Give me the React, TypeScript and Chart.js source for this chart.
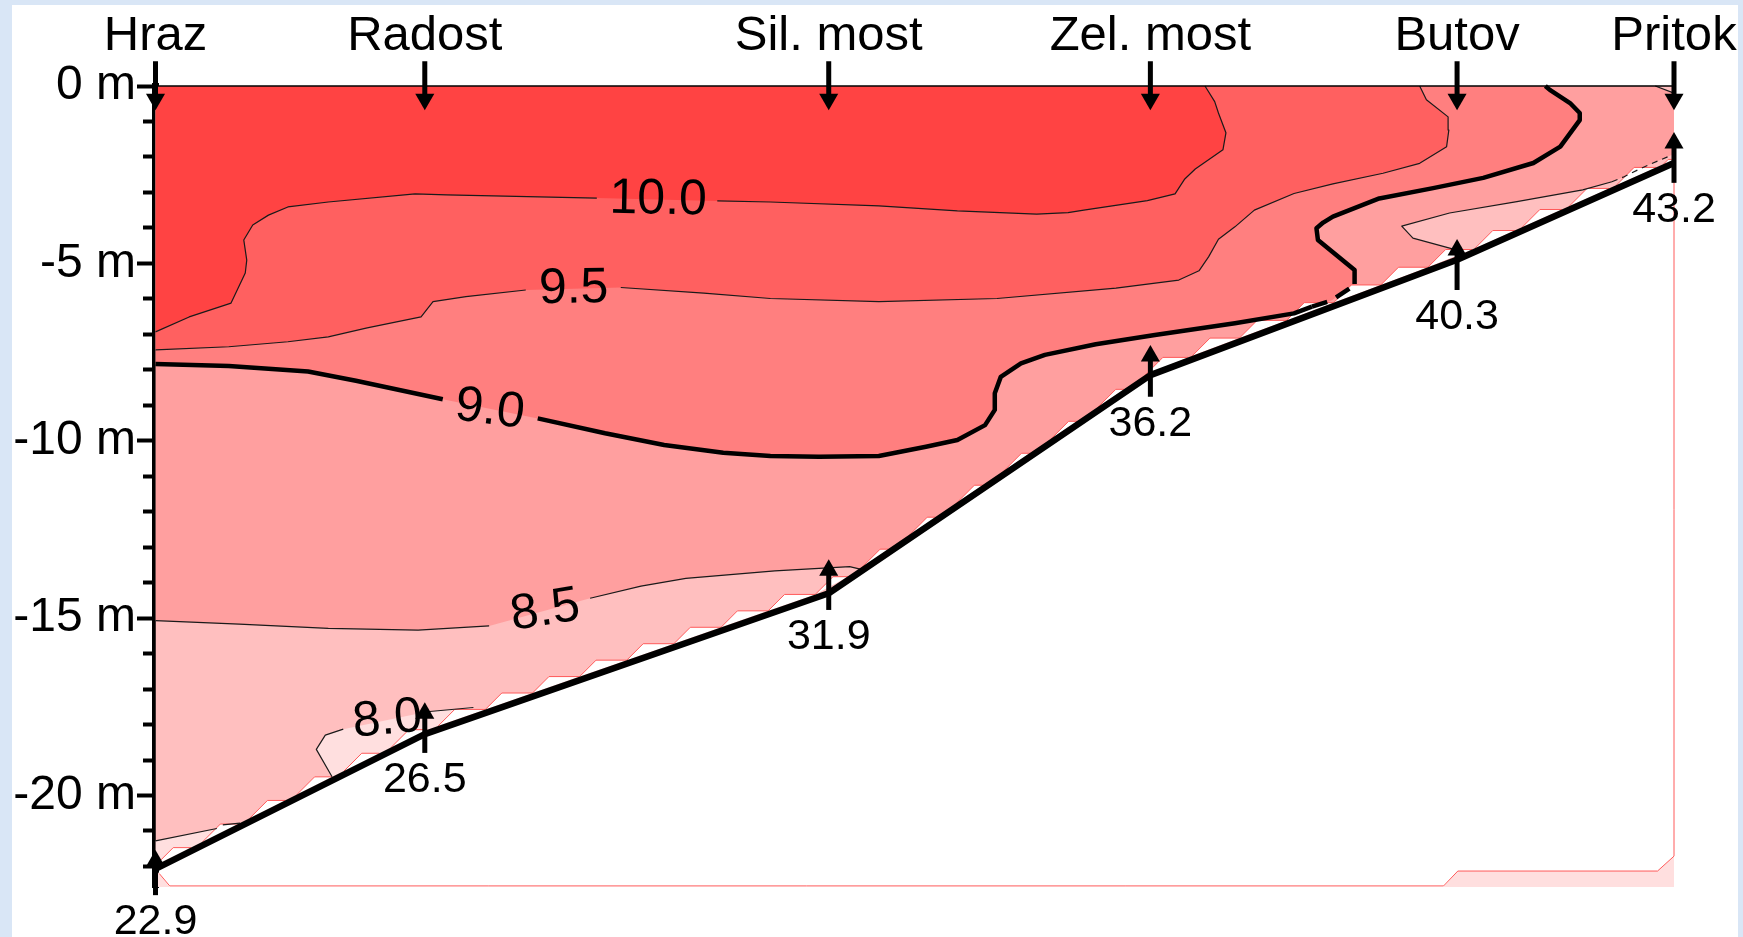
import React, { useEffect, useRef } from 'react';
import { Chart, registerables } from 'chart.js';

Chart.register(...registerables);

const FONT = '"Liberation Sans", Arial, Helvetica, sans-serif';

type Pt = [number, number];

// Stations along the reservoir: river km and bottom depth (m)
const STATION_NAMES = ['Hraz', 'Radost', 'Sil. most', 'Zel. most', 'Butov', 'Pritok'];
const STATION_KM = [22.9, 26.5, 31.9, 36.2, 40.3, 43.2];
const BED_DEPTH = [-22.07, -18.27, -14.3, -8.15, -4.9, -2.17];

// Sampling arrows: one from above the surface, one up from under the bottom
const SURFACE_ARROW_FROM = 0.7;
const SURFACE_ARROW_TO = -0.68;
const BOTTOM_ARROW_FROM = [-22.81, -18.8, -14.77, -8.76, -5.75, -2.73];
const BOTTOM_ARROW_TO = [-21.54, -17.37, -13.34, -7.3, -4.31, -1.3];
const ARROW_HEAD = 0.31; // head centre sits this far behind the tip (m)

const DEPTH_MIN = -22.58;
const KM_MIN = 22.9;
const KM_MAX = 43.2;

// Isolines (km, depth). Pieces are split where the value label sits.
const ISO_100_A: Pt[] = [[22.9, -6.93], [23.35, -6.51], [23.91, -6.12], [24.1, -5.27], [24.12, -4.91], [24.08, -4.34], [24.2, -3.92], [24.41, -3.64], [24.67, -3.41], [25.21, -3.27], [26.37, -3.04], [26.79, -3.07], [28.8, -3.16]];
const ISO_100_B: Pt[] = [[30.41, -3.24], [31.12, -3.27], [32.57, -3.38], [33.62, -3.52], [34.68, -3.61], [35.1, -3.57], [35.31, -3.5], [36.16, -3.23], [36.53, -3.04], [36.66, -2.62], [36.8, -2.34], [37.17, -1.8], [37.21, -1.32], [37.11, -0.76], [37.06, -0.44], [36.93, 0]];

const ISO_95_A: Pt[] = [[22.9, -7.44], [23.88, -7.35], [24.67, -7.21], [25.21, -7.07], [25.73, -6.82], [26.45, -6.51], [26.61, -6.08], [27.05, -5.94], [27.85, -5.75]];
const ISO_95_B: Pt[] = [[29.12, -5.68], [30.23, -5.84], [31.12, -5.99], [32.57, -6.08], [34.15, -5.99], [35.74, -5.7], [36.58, -5.47], [36.85, -5.21], [36.98, -4.81], [37.11, -4.32], [37.33, -3.97], [37.59, -3.5], [38.12, -3.03], [38.64, -2.76], [39.31, -2.46], [39.8, -2.18], [40.16, -1.71], [40.19, -1.24], [40.18, -0.87], [39.89, -0.39], [39.8, 0]];

const ISO_90_A: Pt[] = [[22.9, -7.84], [23.88, -7.89], [24.94, -8.05], [25.58, -8.31], [26.74, -8.83]];
const ISO_90_B: Pt[] = [[28.01, -9.37], [28.91, -9.79], [29.7, -10.12], [30.49, -10.34], [31.12, -10.43], [31.77, -10.45], [32.57, -10.43], [33.2, -10.17], [33.62, -9.98], [33.99, -9.56], [34.12, -9.13], [34.12, -8.66], [34.2, -8.2], [34.47, -7.82], [34.79, -7.58], [35.47, -7.28], [36.26, -7.02], [37.33, -6.69], [38.12, -6.41], [38.36, -6.22]];
const ISO_90_C: Pt[] = [[38.36, -6.22], [38.62, -6.05], [38.88, -5.68], [38.93, -5.58]];
const ISO_90_D: Pt[] = [[38.93, -5.58], [38.93, -5.19], [38.44, -4.34], [38.42, -4.01], [38.51, -3.85], [38.64, -3.68], [39.26, -3.17], [39.98, -2.88], [40.65, -2.59], [41.32, -2.17], [41.68, -1.71], [41.94, -0.96], [41.94, -0.76], [41.81, -0.48], [41.54, -0.11], [41.48, 0]];

const ISO_85_A: Pt[] = [[22.9, -15.07], [24.02, -15.17], [25.21, -15.29], [26.41, -15.34], [27.36, -15.22]];
const ISO_85_B: Pt[] = [[28.71, -14.44], [29.39, -14.1], [29.99, -13.88], [31.18, -13.67], [32.18, -13.55], [32.32, -13.62]];
const ISO_85_C: Pt[] = [[40.34, -4.85], [40.25, -4.6], [39.71, -4.29], [39.56, -3.95], [40.2, -3.58], [41.1, -3.26], [41.98, -2.93], [42.37, -2.7]];
const ISO_85_D: Pt[] = [[42.37, -2.7], [42.52, -2.57], [42.77, -2.31], [42.92, -2.17], [43.2, -1.92]];
const ISO_85_E: Pt[] = [[42.95, 0], [43.2, -0.2]];

const ISO_80_RA: Pt[] = [[25.26, -19.47], [25.05, -18.7], [25.17, -18.3], [25.41, -18.13]];
const ISO_80_RB: Pt[] = [[26.53, -17.64], [27.15, -17.52]];
const ISO_80_HA: Pt[] = [[22.9, -21.28], [23.72, -20.93]];
const ISO_80_HB: Pt[] = [[23.8, -20.83], [24.03, -20.78]];

// Edge of the gridded section at the bottom
const FRAME_EDGE: Pt[] = [[22.95, -22.2], [23.09, -22.55], [40.12, -22.55], [40.31, -22.13], [42.98, -22.13], [43.2, -21.71], [43.2, -2.17]];
const FRAME_CORNER_R: Pt[] = [[40.12, -22.58], [40.31, -22.13], [42.98, -22.13], [43.2, -21.71], [43.2, -22.58]];
const FRAME_CORNER_L: Pt[] = [[22.9, -22.07], [23.09, -22.58], [22.9, -22.58]];

// Grid cells of the gridded section cut the bottom into small steps
const GRID_STEP_KM = 0.63;
const GRID_MAX_RISE = 0.5; // m
const GRID_DIAG_KM_PER_M = 0.474; // a 45° cut at this aspect
const GRID_LIFT = 0.1; // steps start at the upper edge of the bottom line (m)

// Isoline value labels
const ISO_LABEL_TEXT = ['10.0', '9.5', '9.0', '8.5', '8.0'];
const ISO_LABEL_KM = [29.62, 28.49, 27.37, 28.11, 26.0];
const ISO_LABEL_DEPTH = [-3.21, -5.72, -9.13, -14.8, -17.87];
const ISO_LABEL_ANGLE = [1, -1, 7, -9, -5];

// Fill colours, from warmest band down
const BAND_COLORS = {
  above100: '#ff4343',
  above95: '#ff6060',
  above90: '#ff7f7f',
  above85: '#ff9f9f',
  above80: '#ffbfbf',
  below80: '#ffdfdf',
};

const BED: Pt[] = STATION_KM.map((k, i) => [k, BED_DEPTH[i]] as Pt);
const rev = (pts: Pt[]): Pt[] => [...pts].reverse();
const toXY = (pts: Pt[]) => pts.map(([x, y]) => ({ x, y }));
// bed vertices strictly between two km, walking from `from` to `to`
const bedBetween = (from: number, to: number): Pt[] => {
  const lo = Math.min(from, to);
  const hi = Math.max(from, to);
  const inner = BED.filter(([k]) => k > lo && k < hi);
  return from > to ? rev(inner) : inner;
};
const bedAt = (km: number): number => {
  for (let i = 1; i < BED.length; i++) {
    const [k0, d0] = BED[i - 1];
    const [k1, d1] = BED[i];
    if (km <= k1) return d0 + ((km - k0) / (k1 - k0)) * (d1 - d0);
  }
  return BED[BED.length - 1][1];
};
const kmAtBed = (depth: number): number => {
  for (let i = 1; i < BED.length; i++) {
    const [k0, d0] = BED[i - 1];
    const [k1, d1] = BED[i];
    if (depth <= d1) return k0 + ((depth - d0) / (d1 - d0)) * (k1 - k0);
  }
  return BED[BED.length - 1][0];
};

// white wedges left between the last grid cells and the bottom line
function gridSteps() {
  const pts: { x: number; y: number | null }[] = [];
  for (let k = KM_MIN; k < KM_MAX - 0.05; k += GRID_STEP_KM) {
    const next = Math.min(k + GRID_STEP_KM, KM_MAX);
    const d0 = bedAt(k);
    const rise = Math.min(bedAt(next) - d0, GRID_MAX_RISE);
    const top = d0 + rise;
    const kr = kmAtBed(top);
    pts.push(
      { x: k, y: d0 + GRID_LIFT },
      { x: k + rise * GRID_DIAG_KM_PER_M, y: top + GRID_LIFT },
      { x: kr, y: top + GRID_LIFT },
      { x: kr, y: null },
    );
  }
  return pts;
}

const ZONE_WATER: Pt[] = [[KM_MIN, 0], [KM_MAX, 0], ...rev(BED)];
const ZONE_85: Pt[] = [[KM_MIN, 0], ...ISO_85_E, ...rev(ISO_85_D), ...rev(ISO_85_C), ...bedBetween(40.34, 32.32), ...rev(ISO_85_B), ...rev(ISO_85_A)];
const ZONE_90: Pt[] = [[KM_MIN, 0], ...rev(ISO_90_D), ...rev(ISO_90_C), ...rev(ISO_90_B), ...rev(ISO_90_A)];
const ZONE_95: Pt[] = [[KM_MIN, 0], ...rev(ISO_95_B), ...rev(ISO_95_A)];
const ZONE_100: Pt[] = [[KM_MIN, 0], ...rev(ISO_100_B), ...rev(ISO_100_A)];
const POCKET_RADOST: Pt[] = [...ISO_80_RA, ...ISO_80_RB, ...bedBetween(27.15, 25.26)];
const POCKET_HRAZ: Pt[] = [...ISO_80_HA, ...ISO_80_HB, BED[0]];

function area(pts: Pt[], color: string, order: number) {
  return {
    data: toXY(pts),
    fill: 'shape',
    backgroundColor: color,
    borderColor: 'transparent',
    borderWidth: 0,
    pointRadius: 0,
    order,
  };
}

function line(pts: Pt[], width: number, color = '#000', dash: number[] = [], order = 30) {
  return {
    data: toXY(pts),
    fill: false,
    borderColor: color,
    borderWidth: width,
    borderDash: dash,
    borderJoinStyle: 'round',
    borderCapStyle: 'butt',
    pointRadius: 0,
    clip: false,
    order,
  };
}

function arrow(km: number, from: number, to: number) {
  const down = to < from;
  const head = down ? to + ARROW_HEAD : to - ARROW_HEAD;
  return {
    data: [{ x: km, y: from }, { x: km, y: head }],
    fill: false,
    borderColor: '#000',
    borderWidth: 5,
    borderCapStyle: 'butt',
    pointRadius: [0, 11],
    pointStyle: 'triangle',
    pointRotation: [0, down ? 180 : 0],
    pointBackgroundColor: '#000',
    pointBorderWidth: 0,
    clip: false,
    order: 5,
  };
}

const sectionLabels = {
  id: 'sectionLabels',
  afterDatasetsDraw(chart: any) {
    const { ctx, scales } = chart;
    const xs = scales.x;
    const ys = scales.y;
    ctx.save();
    ctx.fillStyle = '#000';
    ctx.textAlign = 'center';

    ctx.font = `43px ${FONT}`;
    ctx.textBaseline = 'alphabetic';
    STATION_KM.forEach((km, i) => {
      const px = xs.getPixelForValue(km);
      const py = ys.getPixelForValue(BOTTOM_ARROW_FROM[i]) + 39;
      ctx.fillText(km.toFixed(1), px, py);
    });

    ctx.font = `50px ${FONT}`;
    ctx.textBaseline = 'middle';
    ISO_LABEL_TEXT.forEach((text, i) => {
      ctx.save();
      ctx.translate(xs.getPixelForValue(ISO_LABEL_KM[i]), ys.getPixelForValue(ISO_LABEL_DEPTH[i]));
      ctx.rotate((ISO_LABEL_ANGLE[i] * Math.PI) / 180);
      ctx.fillText(text, 0, 0);
      ctx.restore();
    });
    ctx.restore();
  },
};

function buildConfig(): any {
  const datasets: any[] = [
    area(ZONE_WATER, BAND_COLORS.above80, 100),
    area(POCKET_RADOST, BAND_COLORS.below80, 90),
    area(POCKET_HRAZ, BAND_COLORS.below80, 90),
    area(ZONE_85, BAND_COLORS.above85, 80),
    area(ZONE_90, BAND_COLORS.above90, 70),
    area(ZONE_95, BAND_COLORS.above95, 60),
    area(ZONE_100, BAND_COLORS.above100, 50),
    area(FRAME_CORNER_R, BAND_COLORS.below80, 45),
    area(FRAME_CORNER_L, BAND_COLORS.below80, 45),
    {
      data: gridSteps(),
      fill: 'shape',
      spanGaps: false,
      backgroundColor: '#ffffff',
      borderColor: '#ff5a5a',
      borderWidth: 1,
      pointRadius: 0,
      order: 40,
    },

    line(ISO_100_A, 1.2, '#1a1a1a'),
    line(ISO_100_B, 1.2, '#1a1a1a'),
    line(ISO_95_A, 1.2, '#1a1a1a'),
    line(ISO_95_B, 1.2, '#1a1a1a'),
    line(ISO_85_A, 1.2, '#1a1a1a'),
    line(ISO_85_B, 1.2, '#1a1a1a'),
    line(ISO_85_C, 1.2, '#1a1a1a'),
    line(ISO_85_D, 1.2, '#1a1a1a', [6, 5]),
    line(ISO_85_E, 1.2, '#1a1a1a'),
    line(ISO_80_RA, 1.2, '#1a1a1a'),
    line(ISO_80_RB, 1.2, '#1a1a1a'),
    line(ISO_80_HA, 1.2, '#1a1a1a'),
    line(ISO_80_HB, 1.2, '#1a1a1a'),
    line(ISO_90_A, 4.5),
    line(ISO_90_B, 4.5),
    line(ISO_90_C, 4.5, '#000', [16, 10]),
    line(ISO_90_D, 4.5),

    line(FRAME_EDGE, 1, '#ff5a5a', [], 25),
    line([[KM_MIN, 0], [KM_MAX, 0]], 1.5, '#000', [], 20),
    line(BED, 6.5, '#000', [], 10),
  ];

  STATION_KM.forEach((km, i) => {
    datasets.push(arrow(km, SURFACE_ARROW_FROM, SURFACE_ARROW_TO));
    datasets.push(arrow(km, BOTTOM_ARROW_FROM[i], BOTTOM_ARROW_TO[i]));
  });

  return {
    type: 'line',
    data: { datasets },
    options: {
      responsive: false,
      animation: false,
      events: [],
      devicePixelRatio: 1,
      layout: { padding: { left: 0, top: 0, right: 69, bottom: 50 } },
      plugins: {
        legend: { display: false },
        tooltip: { enabled: false },
      },
      elements: { line: { tension: 0 } },
      scales: {
        x: {
          type: 'linear',
          position: 'top',
          min: KM_MIN,
          max: KM_MAX,
          grid: { display: false, drawTicks: false },
          border: { display: false },
          afterBuildTicks: (scale: any) => {
            scale.ticks = STATION_KM.map((value) => ({ value }));
          },
          afterFit: (scale: any) => {
            scale.height = 86;
            scale.paddingLeft = 0;
            scale.paddingRight = 0;
          },
          ticks: {
            autoSkip: false,
            maxRotation: 0,
            minRotation: 0,
            padding: 20.5,
            color: '#000',
            font: { family: FONT, size: 49, lineHeight: 1.2 },
            callback: (_v: number, i: number) => STATION_NAMES[i],
          },
        },
        y: {
          type: 'linear',
          position: 'left',
          weight: 10,
          min: DEPTH_MIN,
          max: 0,
          border: { display: false },
          grid: { drawOnChartArea: false, drawTicks: true, tickLength: 6, tickWidth: 4, tickColor: '#000' },
          ticks: {
            stepSize: 5,
            includeBounds: false,
            padding: 1,
            color: '#000',
            font: { family: FONT, size: 48 },
            callback: (v: number) => `${v} m`,
          },
          afterFit: (scale: any) => {
            scale.width = 143;
          },
        },
        yMinor: {
          type: 'linear',
          position: 'left',
          weight: 0,
          min: DEPTH_MIN,
          max: 0,
          border: { display: true, width: 7, color: '#000' },
          grid: { drawOnChartArea: false, drawTicks: true, tickLength: 12.5, tickWidth: 4, tickColor: '#000' },
          ticks: {
            stepSize: 1,
            includeBounds: false,
            font: { family: FONT, size: 8 },
            callback: () => '',
          },
          afterFit: (scale: any) => {
            scale.width = 12.5;
          },
        },
      },
    },
    plugins: [sectionLabels],
  };
}

export default function App() {
  const canvasRef = useRef<HTMLCanvasElement>(null);

  useEffect(() => {
    const canvas = canvasRef.current;
    if (!canvas) return;
    const chart = new Chart(canvas, buildConfig());
    return () => chart.destroy();
  }, []);

  return (
    <div style={{ position: 'fixed', inset: 0, background: '#d9e6f6', overflow: 'hidden' }}>
      <div style={{ position: 'absolute', left: 12, top: 5, width: 1726, height: 932, background: '#ffffff' }} />
      <canvas
        ref={canvasRef}
        width={1743}
        height={937}
        style={{ position: 'absolute', left: 0, top: 0, width: 1743, height: 937 }}
      />
    </div>
  );
}
